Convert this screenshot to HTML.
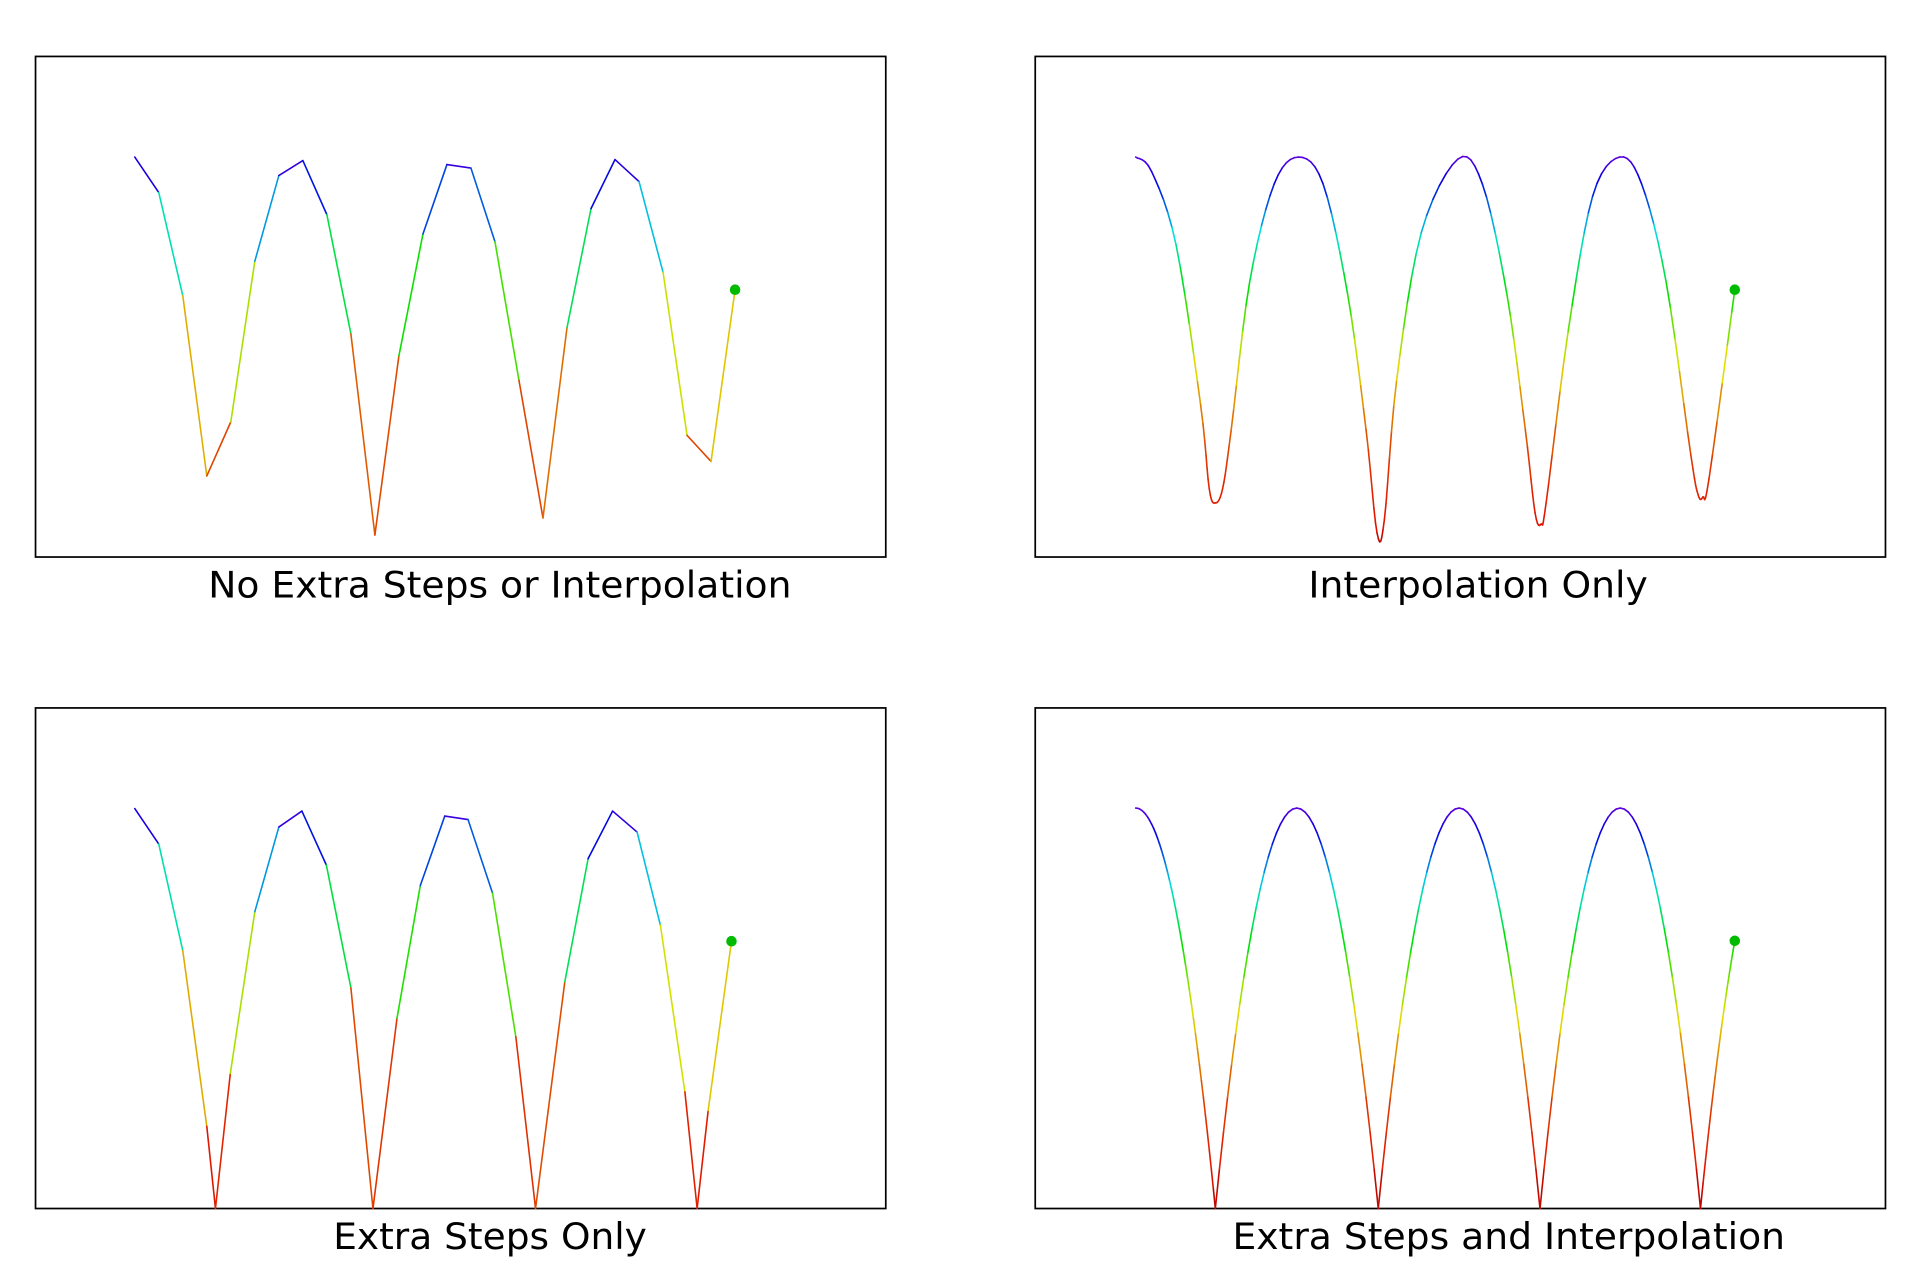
<!DOCTYPE html>
<html><head><meta charset="utf-8">
<style>
html,body{margin:0;padding:0;background:#fff;}
svg{display:block;}
text{font-family:"DejaVu Sans","Liberation Sans",sans-serif;}
</style></head>
<body>
<svg id="fig" width="1921" height="1276" viewBox="0 0 1568 1040" preserveAspectRatio="none" xmlns="http://www.w3.org/2000/svg"></svg>
<script>
// Panel 1: raw samples (x-index, height 0..1)
const rawT = [0,1,2,3,4,5,6,7,8,9,10,11,12,13,14,15,16,17,18,19,20,21,22,23,24,25];
const rawV = [0.799,0.728,0.522,0.162,0.270,0.591,0.762,0.792,0.684,0.446,0.044,0.402,0.645,0.784,0.777,0.630,0.353,0.078,0.458,0.696,0.794,0.750,0.569,0.243,0.191,0.534];
// Panel 2: interpolation-only keypoints (x in px offset from panel, height)
const interpX = [82,95,115,135,142,147,153,160,175,195,215,235,255,270,279,285,295,315,345,365,385,400,408,413,417,435,455,477,495,515,535,541,545,550,571];
const interpV = [0.799,0.770,0.623,0.304,0.137,0.108,0.137,0.255,0.549,0.745,0.799,0.745,0.525,0.255,0.048,0.075,0.353,0.647,0.795,0.745,0.525,0.255,0.088,0.066,0.108,0.451,0.721,0.799,0.745,0.549,0.206,0.125,0.120,0.157,0.534];
// Panel 3: extra steps only (x-index, height)
const stepT = [0,1,2,3,3.36,3.98,5,6,6.96,7.98,9,9.92,10.92,11.89,12.91,13.88,14.9,15.87,16.69,17.91,18.88,19.9,20.92,21.89,22.91,23.42,23.88,24.85];
const stepV = [0.799,0.728,0.515,0.164,0,0.270,0.593,0.762,0.794,0.686,0.441,0,0.380,0.645,0.784,0.777,0.630,0.343,0,0.453,0.699,0.794,0.752,0.566,0.233,0,0.196,0.534];
// Panel 4: extra steps + interpolation, parabolic arcs
const arcStart = [862,992,1125,1257,1388];
const arcEnd   = [992,1125,1257,1388,1520];
const arcPeak  = [0.80,0.80,0.80,0.80,0.80];
const arcClipStart = 927, arcClipEnd = 1416;
const titles = ["No Extra Steps or Interpolation","Interpolation Only","Extra Steps Only","Extra Steps and Interpolation"];

const NS="http://www.w3.org/2000/svg";
const svg=document.getElementById('fig');
const panels=[{x:29,y:46},{x:845,y:46},{x:29,y:577},{x:845,y:577}];
const PW=694, PH=408;
const titleX=[170,1068,272,1006], titleW=[476,277,256,451];
function mk(tag,attrs){const e=document.createElementNS(NS,tag);for(const k in attrs)e.setAttribute(k,attrs[k]);svg.appendChild(e);return e;}
function hue(v){
  const s=[[0,0],[0.2,15],[0.32,40],[0.42,70],[0.52,115],[0.62,165],[0.72,225],[0.8,265]];
  if(v<=0)return 'hsl(0,100%,30%)';
  for(let i=1;i<s.length;i++){if(v<=s[i][0]){const f=(v-s[i-1][0])/(s[i][0]-s[i-1][0]);return 'hsl('+(s[i-1][1]+f*(s[i][1]-s[i-1][1]))+',100%,'+(v<0.05?38:44)+'%)';}}
  return 'hsl(265,100%,40%)';
}
function yS(p,v){return panels[p].y+PH-v*PH;}
function drawPts(p,pts,name){
  const g=mk('g',{});
  
  
  for(let i=0;i<pts.length-1;i++){
    const a=pts[i],b=pts[i+1];
    const l=document.createElementNS(NS,'line');
    l.setAttribute('x1',a[0]);l.setAttribute('y1',yS(p,a[1]));l.setAttribute('x2',b[0]);l.setAttribute('y2',yS(p,b[1]));
    l.setAttribute('stroke',hue((a[1]+b[1])/2));l.setAttribute('stroke-width','1.3');l.setAttribute('stroke-linecap','round');
    
    
    g.appendChild(l);
  }
  const e=pts[pts.length-1];
  const c=document.createElementNS(NS,'circle');
  c.setAttribute('cx',e[0]);c.setAttribute('cy',yS(p,e[1]));c.setAttribute('r','4.3');c.setAttribute('fill','#00bb00');
  
  
  g.appendChild(c);
}
function catmull(xs,vs,n){
  const out=[];
  for(let i=0;i<xs.length-1;i++){
    const p0=[xs[Math.max(i-1,0)],vs[Math.max(i-1,0)]],p1=[xs[i],vs[i]],p2=[xs[i+1],vs[i+1]],p3=[xs[Math.min(i+2,xs.length-1)],vs[Math.min(i+2,xs.length-1)]];
    for(let k=0;k<n;k++){const t=k/n,t2=t*t,t3=t2*t;
      const f=(a,b,c,d)=>0.5*((2*b)+(-a+c)*t+(2*a-5*b+4*c-d)*t2+(-a+3*b-3*c+d)*t3);
      out.push([f(p0[0],p1[0],p2[0],p3[0]),f(p0[1],p1[1],p2[1],p3[1])]);}
  }
  out.push([xs[xs.length-1],vs[vs.length-1]]);
  return out;
}
panels.forEach((p,i)=>{
  const r=mk('rect',{x:p.x,y:p.y,width:PW,height:PH,fill:'none',stroke:'#000','stroke-width':1.4});
  
  
  const t=mk('text',{x:titleX[i],y:p.y+PH+33,'font-size':30,fill:'#000',textLength:titleW[i],lengthAdjust:'spacingAndGlyphs'});
  t.textContent=titles[i];
  
  
});
drawPts(0,rawT.map((t,i)=>[panels[0].x+81+t*19.6,rawV[i]]),'raw-series');
drawPts(1,catmull(interpX,interpV,6).map(q=>[panels[1].x+q[0],q[1]]),'interpolated-series');
drawPts(2,stepT.map((t,i)=>[panels[2].x+81+t*19.6,stepV[i]]),'extra-steps-series');
const arcPts=[];
for(let a=0;a<arcStart.length;a++){
  const mid=(arcStart[a]+arcEnd[a])/2,hw=(arcEnd[a]-arcStart[a])/2;
  const x0=Math.max(arcStart[a],arcClipStart),x1=Math.min(arcEnd[a],arcClipEnd);
  for(let x=x0;x<=x1+0.001;x+=(x1-x0)/40){const u=(x-mid)/hw;arcPts.push([x,Math.max(0,arcPeak[a]*(1-u*u))]);}
}
drawPts(3,arcPts,'extra-steps-interpolated-series');
</script>
</body></html>
